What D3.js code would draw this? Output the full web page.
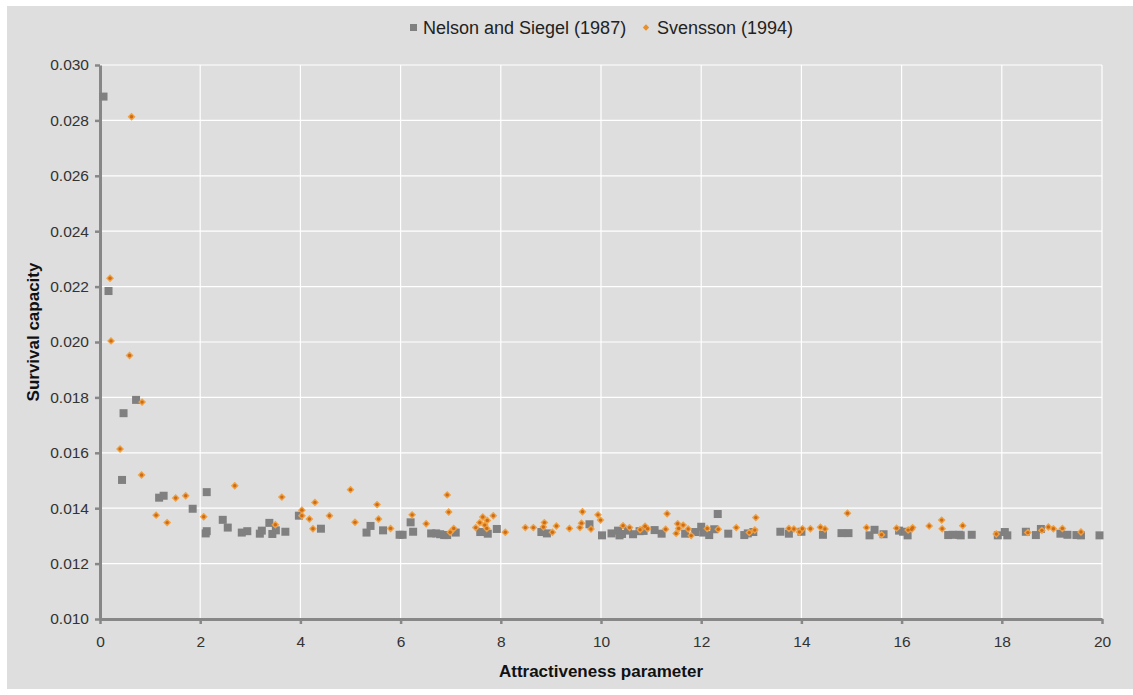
<!DOCTYPE html>
<html>
<head>
<meta charset="utf-8">
<script src="https://cdn.jsdelivr.net/npm/d3@7"></script>
<style>
  body { margin: 0; background: #fff; }
  svg { display: block; font-family: "Liberation Sans", Arial, sans-serif; }
</style>
</head>
<body>
<svg id="chart" width="1133" height="695"></svg>
<script>
// Nelson and Siegel (1987)
const nsX = [0.07, 0.17, 0.47, 0.72, 0.44, 1.18, 1.27, 1.85, 2.13, 2.13, 2.11, 2.45, 2.55, 2.83, 2.94, 3.19, 3.23, 3.38, 3.44, 3.51,
  3.70, 3.97, 4.41, 5.32, 5.40, 5.65, 5.98, 6.04, 6.20, 6.25, 6.61, 6.71, 6.79, 6.87, 6.93, 7.10, 7.59, 7.74, 7.92, 8.81,
  8.92, 9.77, 10.02, 10.21, 10.34, 10.37, 10.42, 10.54, 10.64, 10.77, 10.85, 11.07, 11.21, 11.68, 11.88, 12.00, 12.04, 12.16, 12.26, 12.33,
  12.54, 12.86, 12.93, 13.04, 13.58, 13.75, 14.00, 14.43, 14.80, 14.94, 15.36, 15.46, 15.64, 15.95, 16.03, 16.12, 16.93, 17.02, 17.15, 17.18,
  17.40, 17.92, 18.06, 18.11, 18.48, 18.68, 18.78, 19.17, 19.31, 19.49, 19.58, 19.95];
const nsY = [0.02886, 0.02184, 0.01743, 0.01791, 0.01502, 0.01438, 0.01445, 0.01398, 0.01458, 0.01317, 0.01309, 0.01358, 0.01330, 0.01312, 0.01317, 0.01308, 0.01319, 0.01347, 0.01307, 0.01320,
  0.01315, 0.01373, 0.01326, 0.01312, 0.01336, 0.01320, 0.01304, 0.01304, 0.01349, 0.01315, 0.01309, 0.01309, 0.01306, 0.01303, 0.01303, 0.01312, 0.01314, 0.01308, 0.01325, 0.01314,
  0.01309, 0.01342, 0.01302, 0.01309, 0.01319, 0.01302, 0.01307, 0.01319, 0.01306, 0.01317, 0.01318, 0.01321, 0.01308, 0.01308, 0.01314, 0.01333, 0.01312, 0.01303, 0.01324, 0.01379,
  0.01308, 0.01303, 0.01309, 0.01314, 0.01315, 0.01308, 0.01315, 0.01304, 0.01310, 0.01310, 0.01302, 0.01322, 0.01306, 0.01319, 0.01315, 0.01302, 0.01303, 0.01304, 0.01304, 0.01302,
  0.01304, 0.01302, 0.01314, 0.01302, 0.01315, 0.01303, 0.01325, 0.01308, 0.01304, 0.01303, 0.01302, 0.01302];

// Svensson (1994)
const svX = [0.63, 0.20, 0.22, 0.59, 0.84, 0.40, 0.83, 1.51, 1.71, 1.12, 1.34, 2.07, 2.69, 3.50, 3.63, 4.03, 4.03, 4.18, 4.29, 4.25,
  4.58, 5.00, 5.09, 5.53, 5.56, 5.80, 6.23, 6.51, 6.93, 6.96, 6.99, 7.06, 7.50, 7.58, 7.64, 7.68, 7.73, 7.72, 7.85, 8.09,
  8.49, 8.65, 8.87, 8.85, 9.03, 9.11, 9.37, 9.63, 9.61, 9.58, 9.80, 9.94, 9.99, 10.44, 10.57, 10.78, 10.88, 10.93, 11.29, 11.32,
  11.53, 11.55, 11.50, 11.64, 11.74, 11.80, 12.12, 12.34, 12.70, 12.96, 13.07, 13.09, 13.75, 13.85, 13.96, 14.02, 14.18, 14.38, 14.47, 14.92,
  15.30, 15.60, 15.90, 16.13, 16.20, 16.22, 16.55, 16.80, 16.81, 17.22, 17.89, 18.52, 18.80, 18.93, 19.03, 19.21, 19.58];
const svY = [0.02813, 0.02230, 0.02004, 0.01951, 0.01783, 0.01614, 0.01520, 0.01437, 0.01445, 0.01375, 0.01348, 0.01369, 0.01481, 0.01340, 0.01440, 0.01393, 0.01373, 0.01361, 0.01421, 0.01326,
  0.01373, 0.01467, 0.01349, 0.01413, 0.01361, 0.01327, 0.01376, 0.01344, 0.01448, 0.01386, 0.01313, 0.01327, 0.01330, 0.01348, 0.01368, 0.01339, 0.01356, 0.01327, 0.01373, 0.01313,
  0.01330, 0.01330, 0.01348, 0.01332, 0.01313, 0.01336, 0.01327, 0.01387, 0.01346, 0.01330, 0.01325, 0.01376, 0.01357, 0.01337, 0.01330, 0.01322, 0.01335, 0.01326, 0.01324, 0.01380,
  0.01344, 0.01327, 0.01309, 0.01339, 0.01325, 0.01301, 0.01327, 0.01324, 0.01330, 0.01312, 0.01321, 0.01366, 0.01327, 0.01325, 0.01314, 0.01326, 0.01326, 0.01331, 0.01325, 0.01382,
  0.01330, 0.01304, 0.01328, 0.01321, 0.01324, 0.01330, 0.01336, 0.01357, 0.01326, 0.01337, 0.01307, 0.01312, 0.01320, 0.01332, 0.01326, 0.01327, 0.01314];

const xTicks = [0, 2, 4, 6, 8, 10, 12, 14, 16, 18, 20];
const yTicks = [0.010, 0.012, 0.014, 0.016, 0.018, 0.020, 0.022, 0.024, 0.026, 0.028, 0.030];
const seriesNames = ['Nelson and Siegel (1987)', 'Svensson (1994)'];

const svg = d3.select('#chart');
const margin = { top: 65, right: 31, bottom: 76, left: 100 };
const width = +svg.attr('width') - margin.left - margin.right;
const height = +svg.attr('height') - margin.top - margin.bottom;

const grey = '#808080';
const orange = '#e8902c';
const axisColor = '#878787';

// panel background
svg.append('rect')
  .attr('x', 7).attr('y', 6)
  .attr('width', 1126).attr('height', 683)
  .attr('fill', '#dedede');

const g = svg.append('g')
  .attr('transform', `translate(${margin.left},${margin.top})`);

const x = d3.scaleLinear().domain([0, 20]).range([0, width]);
const y = d3.scaleLinear().domain([0.010, 0.030]).range([height, 0]);

// grid
g.append('g')
  .selectAll('line')
  .data(xTicks.slice(1))
  .enter().append('line')
  .attr('x1', d => x(d)).attr('x2', d => x(d))
  .attr('y1', 0).attr('y2', height)
  .attr('stroke', '#fff').attr('stroke-width', 1.2);

g.append('g')
  .selectAll('line')
  .data(yTicks.slice(1))
  .enter().append('line')
  .attr('x1', 0).attr('x2', width)
  .attr('y1', d => y(d)).attr('y2', d => y(d))
  .attr('stroke', '#fff').attr('stroke-width', 1.2);

// Eje X
const xAxis = g.append('g')
  .attr('transform', `translate(0,${height})`)
  .call(d3.axisBottom(x).tickValues(xTicks).tickFormat(d3.format('d')).tickSizeInner(5).tickSizeOuter(0).tickPadding(12));

// Eje Y
const yAxis = g.append('g')
  .call(d3.axisLeft(y).tickValues(yTicks).tickFormat(d3.format('.3f')).tickSizeInner(5).tickSizeOuter(0).tickPadding(6));

[xAxis, yAxis].forEach(a => {
  a.select('.domain').attr('stroke', axisColor).attr('stroke-width', 3);
  a.selectAll('.tick line').attr('stroke', axisColor).attr('stroke-width', 2.5);
  a.selectAll('.tick text')
    .attr('fill', '#333')
    .style('font-size', '15.5px')
    .style('font-family', '"Liberation Sans", Arial, sans-serif');
});

// Nelson and Siegel points
const nsData = nsX.map((d, i) => ({ x: d, y: nsY[i] }));
g.append('g')
  .selectAll('rect')
  .data(nsData)
  .enter().append('rect')
  .attr('x', d => x(d.x) - 4)
  .attr('y', d => y(d.y) - 4)
  .attr('width', 8).attr('height', 8)
  .attr('fill', grey);

// Svensson points
const svData = svX.map((d, i) => ({ x: d, y: svY[i] }));
const diamond = d3.symbol().type(d3.symbolDiamond2).size(40);
const svG = g.append('g');
svG.selectAll('path.sv')
  .data(svData)
  .enter().append('path')
  .attr('class', 'sv')
  .attr('transform', d => `translate(${x(d.x)},${y(d.y)})`)
  .attr('d', diamond)
  .attr('fill', '#f0a040');
svG.selectAll('circle')
  .data(svData)
  .enter().append('circle')
  .attr('cx', d => x(d.x))
  .attr('cy', d => y(d.y))
  .attr('r', 1.7)
  .attr('fill', '#cc6c18');

// Etiquetas de los ejes
svg.append('text')
  .attr('x', margin.left + width / 2)
  .attr('y', 677)
  .attr('text-anchor', 'middle')
  .style('font-size', '17px')
  .style('font-weight', 'bold')
  .attr('fill', '#111')
  .text('Attractiveness parameter');

svg.append('text')
  .attr('transform', `translate(39,${margin.top + height / 2 - 10}) rotate(-90)`)
  .attr('text-anchor', 'middle')
  .style('font-size', '17px')
  .style('font-weight', 'bold')
  .attr('fill', '#111')
  .text('Survival capacity');

// Leyenda
const legend = svg.append('g');
legend.append('rect')
  .attr('x', 410).attr('y', 24)
  .attr('width', 7).attr('height', 7)
  .attr('fill', grey);
legend.append('text')
  .attr('x', 423).attr('y', 34)
  .style('font-size', '18px')
  .attr('fill', '#222')
  .text(seriesNames[0]);
legend.append('path')
  .attr('transform', 'translate(646,27.5)')
  .attr('d', d3.symbol().type(d3.symbolDiamond2).size(26))
  .attr('fill', orange);
legend.append('text')
  .attr('x', 657).attr('y', 34)
  .style('font-size', '18px')
  .attr('fill', '#222')
  .text(seriesNames[1]);
</script>
</body>
</html>
